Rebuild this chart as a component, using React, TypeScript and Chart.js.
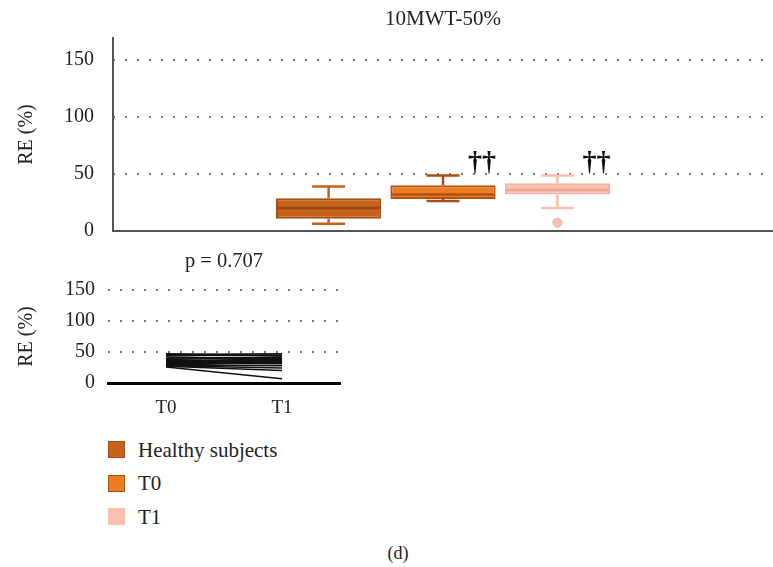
import React, { useEffect, useRef } from "react";
import { Chart, registerables } from "chart.js";

Chart.register(...registerables);

const FONT = "'Liberation Serif', 'Times New Roman', serif";

// ---- data ----
const groupNames = ["Healthy subjects", "T0", "T1"];
const whiskerLow = [6.4, 26.3, 20.2];
const q1Values = [10.8, 28.0, 31.9];
const medianValues = [20.2, 31.9, 36.0];
const q3Values = [28.7, 40.0, 41.8];
const whiskerHigh = [38.9, 48.5, 48.5];
const outlierValues = [[], [], [7.3]];
const significance = ["", "††", "††"];

const yTicks = [0, 50, 100, 150];
const topTitle = "10MWT-50%";
const bottomTitle = "p = 0.707";
const yAxisTitle = "RE (%)";
const timeLabels = ["T0", "T1"];
const subjectT0 = [26, 27, 28, 29, 30, 31, 32, 32, 33, 34, 35, 36, 38, 40, 42, 44, 46, 47, 28, 30];
const subjectT1 = [7, 20, 24, 28, 33, 35, 31, 37, 36, 40, 34, 38, 41, 42, 38, 45, 47, 44, 36, 39];
const panelLabel = "(d)";

// ---- styles ----
const fillColors = ["rgb(197,98,27)", "rgb(237,125,34)", "rgb(250,194,174)"];
const borderColors = ["rgb(165,78,22)", "rgb(178,82,20)", "rgb(244,176,156)"];
const whiskerColors = ["rgb(197,98,27)", "rgb(170,78,20)", "rgb(250,190,170)"];
const medianColors = ["rgb(160,72,20)", "rgb(175,80,20)", "rgb(238,165,145)"];
const legendBorders = ["rgb(165,78,22)", "rgb(178,82,20)", "transparent"];

// title centred over the plot area (not the whole canvas)
const centerTitlePlugin = {
  id: "centerTitle",
  afterDraw(chart: any, _args: any, opts: any) {
    if (!opts || !opts.text) return;
    const { ctx, chartArea } = chart;
    ctx.save();
    ctx.font = `${opts.size}px ${FONT}`;
    ctx.fillStyle = "#222";
    ctx.textAlign = "center";
    ctx.textBaseline = "middle";
    ctx.fillText(opts.text, (chartArea.left + chartArea.right) / 2, opts.y);
    ctx.restore();
  },
};

const boxPlugin = {
  id: "boxExtras",
  afterDatasetsDraw(chart: any) {
    const ctx = chart.ctx;
    const y = chart.scales.y;
    chart.data.datasets.forEach((_ds: any, i: number) => {
      const meta = chart.getDatasetMeta(i);
      const bar = meta.data[0];
      if (!bar) return;
      const x = bar.x;
      const w = bar.width;
      const capW = 33;
      ctx.save();
      ctx.strokeStyle = whiskerColors[i];
      ctx.lineWidth = 2.5;
      ctx.beginPath();
      ctx.moveTo(x, y.getPixelForValue(q3Values[i]));
      ctx.lineTo(x, y.getPixelForValue(whiskerHigh[i]));
      ctx.moveTo(x, y.getPixelForValue(q1Values[i]));
      ctx.lineTo(x, y.getPixelForValue(whiskerLow[i]));
      ctx.moveTo(x - capW / 2, y.getPixelForValue(whiskerHigh[i]));
      ctx.lineTo(x + capW / 2, y.getPixelForValue(whiskerHigh[i]));
      ctx.moveTo(x - capW / 2, y.getPixelForValue(whiskerLow[i]));
      ctx.lineTo(x + capW / 2, y.getPixelForValue(whiskerLow[i]));
      ctx.stroke();
      ctx.strokeStyle = medianColors[i];
      ctx.lineWidth = 2.5;
      ctx.beginPath();
      ctx.moveTo(x - w / 2 + 1, y.getPixelForValue(medianValues[i]));
      ctx.lineTo(x + w / 2 - 1, y.getPixelForValue(medianValues[i]));
      ctx.stroke();
      ctx.fillStyle = fillColors[i];
      ctx.strokeStyle = borderColors[i];
      ctx.lineWidth = 1;
      outlierValues[i].forEach((v) => {
        ctx.beginPath();
        ctx.arc(x, y.getPixelForValue(v), 4.5, 0, Math.PI * 2);
        ctx.fill();
        ctx.stroke();
      });
      if (significance[i]) {
        ctx.fillStyle = "#111";
        ctx.font = `bold 28px ${FONT}`;
        ctx.textAlign = "center";
        ctx.textBaseline = "alphabetic";
        ctx.fillText(significance[i], x + 39, y.getPixelForValue(whiskerHigh[i]) - 6);
      }
      ctx.restore();
    });
  },
};

function TopChart() {
  const ref = useRef<HTMLCanvasElement>(null);
  useEffect(() => {
    const chart = new Chart(ref.current!, {
      type: "bar",
      data: {
        labels: [""],
        datasets: groupNames.map((name, i) => ({
          label: name,
          data: [[q1Values[i], q3Values[i]]],
          backgroundColor: fillColors[i],
          borderColor: borderColors[i],
          borderWidth: 2,
          borderSkipped: false,
          categoryPercentage: 0.52,
          barPercentage: 0.92,
        })),
      } as any,
      options: {
        animation: false,
        responsive: false,
        maintainAspectRatio: false,
        layout: { padding: { left: 0, right: 0, top: 38, bottom: 14 } },
        plugins: {
          legend: { display: false },
          tooltip: { enabled: false },
          title: { display: false },
          centerTitle: { text: topTitle, size: 21, y: 19.5 },
        },
        scales: {
          x: {
            ticks: { display: false },
            grid: { display: false, drawTicks: false },
            border: { display: true, color: "#555", width: 2 },
            afterFit: (s: any) => {
              s.height = 0;
            },
          },
          y: {
            min: 0,
            max: 169,
            afterBuildTicks: (s: any) => {
              s.ticks = yTicks.map((v) => ({ value: v }));
            },
            afterFit: (s: any) => {
              s.width = 113;
              s.paddingTop = 0;
              s.paddingBottom = 0;
            },
            ticks: { padding: 19, color: "#222", font: { family: FONT, size: 20 } },
            grid: {
              drawTicks: false,
              lineWidth: 2,
              color: (c: any) => (c.tick && c.tick.value === 0 ? "rgba(0,0,0,0)" : "#777"),
            },
            border: { display: true, color: "#555", width: 2, dash: [2, 10], dashOffset: 1 },
            title: {
              display: true,
              text: yAxisTitle,
              color: "#222",
              font: { family: FONT, size: 20 },
              padding: { top: 15, bottom: 0 },
            },
          },
        },
      } as any,
      plugins: [boxPlugin, centerTitlePlugin],
    });
    return () => chart.destroy();
  }, []);
  return (
    <canvas
      ref={ref}
      width={773}
      height={245}
      style={{ position: "absolute", left: 0, top: 0, width: 773, height: 245 }}
    />
  );
}

function BottomChart() {
  const ref = useRef<HTMLCanvasElement>(null);
  useEffect(() => {
    const chart = new Chart(ref.current!, {
      type: "line",
      data: {
        labels: timeLabels,
        datasets: subjectT0.map((v, i) => ({
          label: `S${i + 1}`,
          data: [v, subjectT1[i]],
          borderColor: "#111",
          borderWidth: 1.5,
          pointRadius: 0,
          fill: false,
        })),
      },
      options: {
        animation: false,
        responsive: false,
        maintainAspectRatio: false,
        layout: { padding: { left: 0, right: 20, top: 45, bottom: 0 } },
        plugins: {
          legend: { display: false },
          tooltip: { enabled: false },
          title: { display: false },
          centerTitle: { text: bottomTitle, size: 20.5, y: 17 },
        },
        scales: {
          x: {
            offset: true,
            ticks: { padding: 14, color: "#222", font: { family: FONT, size: 19 } },
            grid: { display: false, drawTicks: false },
            border: { display: true, color: "#000", width: 3 },
            afterFit: (s: any) => {
              s.height = 37;
            },
          },
          y: {
            min: 0,
            max: 150,
            afterBuildTicks: (s: any) => {
              s.ticks = yTicks.map((v) => ({ value: v }));
            },
            afterFit: (s: any) => {
              s.width = 108;
              s.paddingTop = 0;
              s.paddingBottom = 0;
            },
            ticks: { padding: 13, color: "#222", font: { family: FONT, size: 20 } },
            grid: {
              drawTicks: false,
              lineWidth: 2,
              color: (c: any) => (c.tick && c.tick.value === 0 ? "rgba(0,0,0,0)" : "#777"),
            },
            border: { display: false, dash: [2, 10], dashOffset: 0 },
            title: {
              display: true,
              text: yAxisTitle,
              color: "#222",
              font: { family: FONT, size: 20 },
              padding: { top: 15, bottom: 0 },
            },
          },
        },
      } as any,
      plugins: [centerTitlePlugin],
    });
    return () => chart.destroy();
  }, []);
  return (
    <canvas
      ref={ref}
      width={360}
      height={175}
      style={{ position: "absolute", left: 0, top: 245, width: 360, height: 175 }}
    />
  );
}

export default function App() {
  return (
    <div
      style={{
        position: "absolute",
        left: 0,
        top: 0,
        width: 773,
        height: 567,
        background: "#fff",
        overflow: "hidden",
        fontFamily: FONT,
        color: "#222",
      }}
    >
      <TopChart />
      <BottomChart />
      {groupNames.map((name, i) => (
        <div key={name}>
          <div
            style={{
              position: "absolute",
              left: 108,
              top: 441 + i * 33.5,
              width: 17,
              height: 17,
              boxSizing: "border-box",
              background: fillColors[i],
              border: `1.5px solid ${legendBorders[i]}`,
            }}
          />
          <div
            style={{
              position: "absolute",
              left: 138,
              top: 438.5 + i * 33.5,
              height: 22,
              lineHeight: "22px",
              fontSize: 21,
              whiteSpace: "nowrap",
            }}
          >
            {name}
          </div>
        </div>
      ))}
      <div
        style={{
          position: "absolute",
          left: 348,
          top: 543,
          width: 100,
          textAlign: "center",
          fontSize: 18,
          lineHeight: "20px",
        }}
      >
        {panelLabel}
      </div>
    </div>
  );
}
